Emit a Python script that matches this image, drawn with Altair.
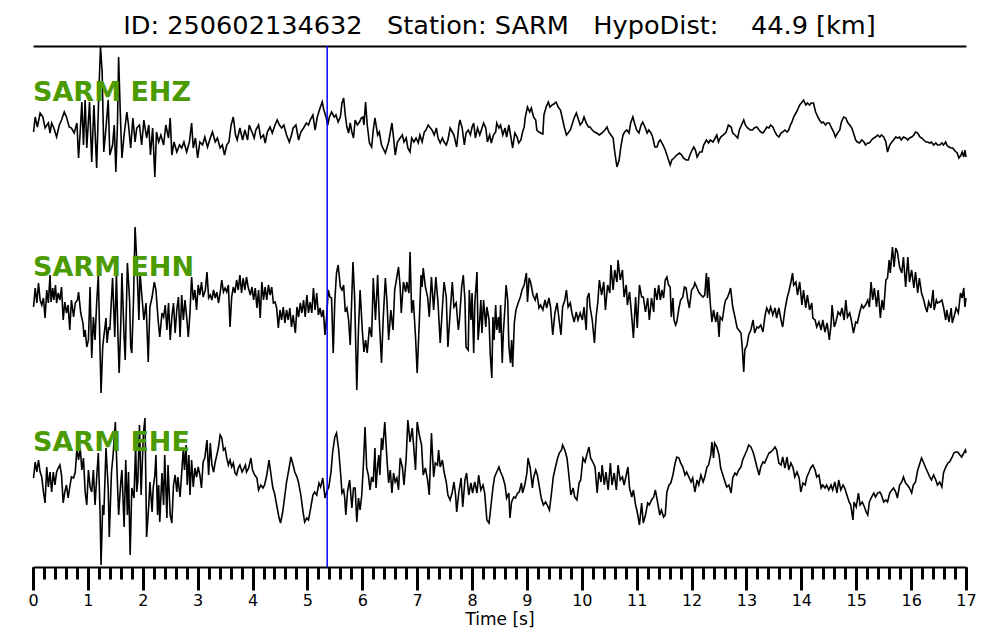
import altair as alt
import pandas as pd

TITLE = "ID: 250602134632\u00a0\u00a0\u00a0Station: SARM\u00a0\u00a0\u00a0HypoDist:\u00a0\u00a0\u00a0\u00a044.9 [km]"
channels = ["SARM EHZ", "SARM EHN", "SARM EHE"]
pick_time = [5.36]
major_ticks = list(range(0, 18))
minor_ticks = [round(i * 0.2, 1) for i in range(0, 86)]

# (time [s], amplitude)
ehz = [(0.01,-7),(0.04,8),(0.08,-2),(0.13,12),(0.18,8),(0.22,-3),(0.28,2),(0.31,-8),(0.34,2),(0.38,-3),(0.43,-12),(0.48,0),(0.52,5),(0.57,13),(0.61,8),(0.66,-2),(0.70,-3),(0.75,-8),(0.80,2),(0.83,-33),(0.86,-7),(0.89,23),(0.92,-20),(0.95,25),(0.98,-23),(1.03,23),(1.07,-37),(1.11,20),(1.16,-43),(1.20,33),(1.23,78),(1.26,53),(1.29,-27),(1.33,-3),(1.37,25),(1.40,-30),(1.45,-20),(1.48,0),(1.51,-47),(1.54,3),(1.56,68),(1.59,13),(1.62,-33),(1.66,-10),(1.71,13),(1.74,0),(1.78,-23),(1.82,7),(1.86,-17),(1.89,-3),(1.94,0),(1.98,-20),(2.02,5),(2.07,-13),(2.11,0),(2.14,-30),(2.18,-3),(2.22,-52),(2.25,-7),(2.29,-17),(2.33,-10),(2.38,-20),(2.42,0),(2.47,-13),(2.50,7),(2.53,-30),(2.57,-17),(2.62,-27),(2.67,-20),(2.71,-23),(2.75,-17),(2.80,-27),(2.85,-17),(2.89,2),(2.92,-23),(2.96,-13),(3.00,-33),(3.04,-17),(3.09,-20),(3.13,-12),(3.18,-22),(3.23,-13),(3.27,-7),(3.32,-17),(3.36,-13),(3.41,-23),(3.45,-20),(3.49,-30),(3.53,-20),(3.57,-17),(3.61,0),(3.65,8),(3.69,-10),(3.72,-15),(3.77,-3),(3.82,-15),(3.86,-5),(3.91,-15),(3.94,0),(3.99,-7),(4.03,-13),(4.06,-5),(4.11,0),(4.15,-13),(4.20,-10),(4.23,-18),(4.27,-7),(4.32,-2),(4.36,-8),(4.41,0),(4.45,5),(4.49,0),(4.53,-3),(4.57,0),(4.62,-10),(4.67,-17),(4.71,-10),(4.74,-3),(4.79,0),(4.84,-15),(4.88,-7),(4.93,-3),(4.98,2),(5.02,0),(5.05,5),(5.10,10),(5.14,-5),(5.18,8),(5.23,17),(5.27,23),(5.30,15),(5.34,8),(5.37,0),(5.40,8),(5.44,13),(5.49,8),(5.52,10),(5.56,3),(5.60,8),(5.63,22),(5.66,27),(5.69,10),(5.72,-2),(5.75,-8),(5.78,2),
(5.81,-7),(5.84,-13),(5.87,5),(5.91,0),(5.95,3),(5.98,7),(6.01,8),(6.03,0),(6.06,23),(6.09,0),(6.13,-18),(6.17,-22),(6.20,-5),(6.23,7),(6.28,-10),(6.31,-7),(6.35,-20),(6.42,-28),(6.48,-17),(6.54,2),(6.57,-13),(6.60,-30),(6.64,-17),(6.69,-13),(6.73,-10),(6.76,-17),(6.80,-13),(6.83,-23),(6.87,-27),(6.90,-13),(6.94,-17),(6.98,-13),(7.02,-18),(7.05,-10),(7.09,-17),(7.13,-7),(7.16,-5),(7.20,0),(7.24,-3),(7.27,-5),(7.31,-10),(7.35,-3),(7.38,-13),(7.42,-18),(7.46,-13),(7.49,-17),(7.53,-20),(7.56,-15),(7.60,-3),(7.64,-7),(7.67,-10),(7.72,-22),(7.76,0),(7.78,5),(7.82,-3),(7.86,-20),(7.89,-8),(7.93,-5),(7.97,-10),(8.00,-2),(8.03,2),(8.06,-13),(8.10,-3),(8.14,-10),(8.17,-5),(8.21,2),(8.25,-3),(8.28,-17),(8.32,-10),(8.35,-18),(8.39,-10),(8.43,-7),(8.45,2),(8.49,-3),(8.52,0),(8.56,-10),(8.60,-3),(8.63,-12),(8.67,0),(8.71,-13),(8.74,-23),(8.78,-8),(8.82,-12),(8.85,-18),(8.89,-15),(8.92,-7),(8.95,-2),(8.97,8),(9.01,18),(9.05,13),(9.08,17),(9.12,8),(9.16,5),(9.18,-5),(9.22,-7),(9.25,-8),(9.29,-9),(9.31,10),(9.35,18),(9.39,23),(9.42,18),(9.46,20),(9.49,21),(9.53,23),(9.57,18),(9.61,15),(9.64,8),(9.68,-2),(9.72,-10),(9.75,-8),(9.79,-5),(9.82,0),(9.86,7),(9.90,12),(9.93,7),(9.97,0),(10.01,3),(10.04,8),(10.08,2),(10.12,-2),(10.15,-2),(10.19,-5),(10.23,-7),(10.27,-8),(10.32,-10),(10.37,-8),(10.42,-5),(10.46,-2),(10.49,-7),(10.53,-10),(10.57,-13),(10.60,-27),(10.64,-42),(10.68,-35),(10.71,-22),(10.75,-10),(10.78,-7),(10.82,-5),(10.86,-8),(10.89,2),(10.93,8),(10.97,0),(11.00,-5),(11.04,-8),(11.08,0),(11.11,3),(11.15,-2),(11.19,-8),(11.22,-5),(11.26,-8),(11.29,-12),(11.33,-22),(11.37,-22),(11.40,-17),(11.43,-15),
(11.48,-20),(11.52,-25),(11.55,-30),(11.58,-35),(11.61,-40),(11.64,-35),(11.68,-33),(11.73,-30),(11.78,-28),(11.82,-30),(11.85,-33),(11.90,-35),(11.94,-35),(11.97,-30),(12.01,-25),(12.04,-22),(12.07,-25),(12.10,-32),(12.15,-27),(12.19,-27),(12.22,-20),(12.27,-15),(12.31,-18),(12.34,-15),(12.39,-17),(12.43,-13),(12.46,-10),(12.49,-17),(12.53,-12),(12.58,-10),(12.63,-7),(12.67,0),(12.72,-2),(12.75,-8),(12.79,-10),(12.84,-13),(12.87,-5),(12.91,0),(12.95,5),(12.98,0),(13.02,-3),(13.07,-5),(13.11,-5),(13.14,-3),(13.19,-2),(13.23,-5),(13.26,-7),(13.30,-8),(13.34,-5),(13.37,-2),(13.41,-3),(13.44,0),(13.48,-2),(13.52,-7),(13.55,-10),(13.59,-12),(13.63,-8),(13.66,-7),(13.70,-5),(13.74,-7),(13.77,-5),(13.80,0),(13.83,3),(13.86,8),(13.90,12),(13.93,15),(13.97,20),(14.00,22),(14.04,25),(14.08,20),(14.11,22),(14.15,20),(14.18,22),(14.22,22),(14.26,13),(14.30,8),(14.33,5),(14.37,2),(14.40,3),(14.44,0),(14.47,2),(14.51,2),(14.55,-3),(14.59,-7),(14.62,-12),(14.66,-8),(14.70,-5),(14.73,3),(14.77,8),(14.81,7),(14.84,3),(14.88,0),(14.92,-3),(14.95,-8),(14.99,-15),(15.02,-17),(15.06,-18),(15.10,-15),(15.14,-17),(15.17,-20),(15.21,-18),(15.24,-18),(15.28,-15),(15.32,-13),(15.35,-12),(15.39,-10),(15.43,-12),(15.46,-10),(15.50,-12),(15.54,-17),(15.57,-27),(15.61,-20),(15.65,-17),(15.68,-15),(15.72,-12),(15.76,-13),(15.79,-12),(15.82,-15),(15.86,-12),(15.90,-13),(15.94,-15),(15.97,-13),(16.01,-12),(16.05,-10),(16.08,-7),(16.12,-8),(16.16,-12),(16.19,-13),(16.23,-15),(16.27,-17),(16.30,-17),(16.34,-18),(16.37,-17),(16.41,-20),(16.45,-18),(16.48,-20),(16.52,-20),(16.56,-18),(16.59,-20),(16.63,-17),(16.65,-20),(16.69,-22),(16.73,-23),(16.76,-23),(16.80,-26),(16.84,-28),(16.87,-33),(16.91,-30),(16.93,-27),(16.96,-32),(16.98,-25),(17.00,-32)]

ehn = [(0.01,-7),(0.04,12),(0.07,-3),(0.10,17),(0.13,0),(0.16,-5),(0.19,2),(0.22,-18),(0.25,10),(0.28,-3),(0.31,25),(0.33,-2),(0.36,12),(0.38,0),(0.41,15),(0.43,-3),(0.46,7),(0.49,0),(0.52,13),(0.55,-20),(0.58,-2),(0.61,-13),(0.64,-5),(0.67,-30),(0.70,0),(0.74,-17),(0.77,-3),(0.81,0),(0.83,8),(0.87,-13),(0.91,-23),(0.93,-37),(0.95,-30),(0.98,-47),(1.01,-40),(1.04,13),(1.07,-58),(1.10,-17),(1.13,-40),(1.16,-3),(1.19,25),(1.22,-47),(1.24,-93),(1.27,-47),(1.29,-37),(1.33,-18),(1.35,-43),(1.38,-27),(1.40,-30),(1.45,22),(1.49,-37),(1.52,27),(1.55,-40),(1.57,-73),(1.60,-23),(1.62,27),(1.66,-37),(1.68,-60),(1.72,37),(1.76,0),(1.78,-47),(1.80,-53),(1.83,-3),(1.86,73),(1.89,40),(1.93,-20),(1.95,27),(1.99,0),(2.02,-20),(2.06,-3),(2.10,-62),(2.13,-7),(2.17,3),(2.21,18),(2.24,10),(2.28,-20),(2.31,-37),(2.35,-13),(2.38,-17),(2.41,-5),(2.44,-30),(2.47,-3),(2.50,-40),(2.53,-17),(2.56,-3),(2.59,-33),(2.62,-10),(2.65,3),(2.68,-37),(2.71,5),(2.74,-20),(2.77,0),(2.80,-17),(2.83,-37),(2.86,-13),(2.89,23),(2.92,0),(2.95,10),(2.98,-10),(3.01,15),(3.04,5),(3.07,18),(3.10,3),(3.14,10),(3.17,28),(3.20,2),(3.23,5),(3.26,0),(3.29,10),(3.32,2),(3.35,8),(3.38,-3),(3.41,7),(3.44,20),(3.47,8),(3.50,12),(3.53,8),(3.56,15),(3.59,-27),(3.62,3),(3.65,13),(3.68,7),(3.71,20),(3.74,10),(3.77,25),(3.80,7),(3.83,22),(3.86,10),(3.89,23),(3.92,13),(3.96,5),(3.99,13),(4.02,0),(4.05,12),(4.08,-8),(4.11,10),(4.14,-18),(4.17,18),(4.20,0),(4.23,13),(4.26,0),(4.29,15),(4.32,5),(4.35,13),(4.38,-3),(4.41,-2),(4.44,-8),(4.47,-28),(4.50,-10),(4.53,-20),(4.56,-7),(4.59,-23),(4.62,-10),(4.65,-20),(4.68,-8),(4.71,-27),(4.74,-15),(4.78,-33),(4.81,-7),(4.84,-17),(4.87,-3),(4.90,-13),(4.93,0),(4.96,-17),(4.99,5),(5.02,-13),(5.05,-2),(5.08,-13),(5.11,12),(5.14,-10),(5.17,7),(5.20,-15),(5.23,-8),(5.26,-17),(5.29,-10),(5.32,-35),(5.35,-17),(5.38,10),(5.41,3),(5.44,2),(5.47,-53),(5.50,0),(5.53,27),(5.56,35),(5.60,13),(5.63,10),(5.66,15),(5.69,-12),(5.72,-8),(5.75,-20),(5.78,-45),
(5.83,38),(5.86,3),(5.90,-90),(5.93,-30),(5.96,10),(6.00,-30),(6.03,-52),(6.06,-40),(6.09,-53),(6.13,-27),(6.17,-37),(6.20,22),(6.24,-20),(6.28,25),(6.31,-20),(6.35,-63),(6.38,-20),(6.42,22),(6.45,-2),(6.48,-40),(6.52,-10),(6.56,-30),(6.59,10),(6.63,23),(6.66,33),(6.69,13),(6.71,-13),(6.75,18),(6.79,8),(6.81,18),(6.85,7),(6.87,48),(6.90,-13),(6.93,0),(6.97,-37),(7.00,-73),(7.04,-20),(7.07,25),(7.09,13),(7.11,32),(7.15,13),(7.19,3),(7.22,-17),(7.26,23),(7.30,-10),(7.34,23),(7.38,-3),(7.42,-43),(7.46,-7),(7.49,18),(7.53,3),(7.56,-47),(7.60,-13),(7.64,18),(7.67,-7),(7.71,-3),(7.75,-30),(7.77,-20),(7.81,13),(7.84,25),(7.87,0),(7.89,-47),(7.93,-50),(7.95,10),(7.98,-20),(8.00,7),(8.03,-53),(8.05,-3),(8.09,28),(8.11,-40),(8.14,-20),(8.16,0),(8.18,-33),(8.21,0),(8.25,-27),(8.27,-7),(8.31,-20),(8.33,-53),(8.36,-78),(8.38,-17),(8.40,-40),(8.43,-5),(8.45,-30),(8.48,-17),(8.50,-33),(8.52,-5),(8.55,-63),(8.57,-33),(8.60,-7),(8.62,15),(8.65,0),(8.67,-45),(8.70,-63),(8.72,-40),(8.74,-67),(8.77,-23),(8.80,-10),(8.84,-3),(8.88,3),(8.91,10),(8.95,15),(8.99,27),(9.01,-2),(9.04,22),(9.07,17),(9.11,5),(9.15,0),(9.18,7),(9.22,-8),(9.25,-5),(9.29,-10),(9.33,0),(9.36,-8),(9.40,2),(9.43,-7),(9.47,-35),(9.51,-13),(9.55,-3),(9.58,-17),(9.62,-35),(9.65,-7),(9.69,0),(9.72,10),(9.75,-7),(9.79,-3),(9.82,-13),(9.86,-22),(9.90,-12),(9.93,-20),(9.97,-13),(10.01,-20),(10.04,-7),(10.08,-30),(10.10,2),(10.13,7),(10.15,-7),(10.19,-20),(10.23,-43),(10.26,-17),(10.29,-3),(10.32,20),(10.36,5),(10.40,18),(10.43,-10),(10.47,15),(10.51,7),(10.53,35),(10.57,10),(10.60,30),(10.64,18),(10.66,40),(10.70,20),(10.74,30),(10.77,3),(10.81,15),(10.83,-5),(10.87,8),(10.91,-17),(10.94,-38),(10.98,3),(11.01,-28),(11.05,15),(11.09,3),(11.12,3),(11.16,-12),(11.20,2),(11.23,-20),(11.27,2),(11.31,-12),(11.33,12),(11.37,0),(11.40,15),(11.43,0),
(11.46,10),(11.49,2),(11.52,20),(11.55,23),(11.58,15),(11.61,13),(11.63,-17),(11.66,2),(11.68,-20),(11.71,-25),(11.73,-22),(11.77,-8),(11.80,0),(11.84,3),(11.87,13),(11.90,12),(11.93,0),(11.96,-8),(12.00,10),(12.04,13),(12.06,17),(12.10,12),(12.13,8),(12.17,5),(12.21,3),(12.24,5),(12.27,27),(12.29,2),(12.31,23),(12.34,-3),(12.37,-22),(12.40,-10),(12.44,-22),(12.47,-12),(12.50,-37),(12.52,-17),(12.56,-20),(12.60,-5),(12.62,0),(12.65,2),(12.69,8),(12.71,12),(12.75,-7),(12.79,-17),(12.83,-28),(12.86,-30),(12.90,-33),(12.92,-45),(12.95,-72),(12.97,-50),(13.01,-45),(13.04,-35),(13.08,-30),(13.12,-20),(13.15,-33),(13.19,-27),(13.22,-28),(13.26,-25),(13.30,-32),(13.34,-15),(13.37,-8),(13.41,-13),(13.44,-7),(13.48,-15),(13.52,-8),(13.55,-18),(13.59,-8),(13.63,-20),(13.66,-27),(13.70,-10),(13.74,2),(13.77,8),(13.81,18),(13.84,27),(13.86,15),(13.90,18),(13.93,5),(13.97,18),(14.01,-5),(14.04,10),(14.08,-8),(14.11,5),(14.15,-10),(14.19,-3),(14.21,-18),(14.25,-20),(14.28,-27),(14.32,-22),(14.36,-30),(14.39,-20),(14.43,-32),(14.47,-23),(14.51,-40),(14.54,-25),(14.56,-5),(14.60,-27),(14.63,-22),(14.67,-12),(14.71,-15),(14.74,-8),(14.78,-20),(14.81,0),(14.84,-17),(14.88,-13),(14.91,-20),(14.95,-33),(14.99,-22),(15.02,-23),(15.06,-13),(15.10,-5),(15.13,-8),(15.17,-5),(15.21,0),(15.24,-7),(15.27,18),(15.30,0),(15.33,12),(15.37,-7),(15.40,10),(15.44,-18),(15.47,0),(15.50,-10),(15.54,20),(15.57,22),(15.60,40),(15.62,27),(15.66,53),(15.69,33),(15.72,52),(15.75,48),(15.79,33),(15.83,27),(15.86,43),(15.90,13),(15.94,43),(15.97,18),(16.01,30),(16.05,12),(16.08,28),(16.12,7),(16.15,22),(16.19,7),(16.23,0),(16.26,-7),(16.29,-12),(16.32,-2),(16.36,-8),(16.40,10),(16.42,-10),(16.46,0),(16.48,-3),(16.52,-2),(16.56,0),(16.59,-7),(16.63,-20),(16.65,-10),(16.69,-22),(16.73,-8),(16.75,-23),(16.79,-15),(16.82,-8),(16.86,-13),(16.90,7),(16.93,2),(16.96,12),(16.98,-7),(17.00,2)]

ehe = [(0.01,-3),(0.04,13),(0.07,3),(0.10,15),(0.13,3),(0.16,-2),(0.19,-17),(0.22,-28),(0.25,8),(0.28,-12),(0.31,3),(0.34,-17),(0.37,3),(0.40,-10),(0.43,3),(0.46,7),(0.49,10),(0.52,0),(0.55,-28),(0.58,-17),(0.61,-10),(0.64,-23),(0.67,-12),(0.70,-2),(0.74,-3),(0.77,3),(0.80,27),(0.83,15),(0.86,27),(0.89,5),(0.92,17),(0.95,-17),(0.98,-30),(1.01,5),(1.04,-12),(1.07,-17),(1.10,5),(1.13,-30),(1.16,-3),(1.19,22),(1.22,-33),(1.24,-90),(1.27,-30),(1.29,-40),(1.33,27),(1.37,-13),(1.39,-62),(1.43,3),(1.46,20),(1.50,53),(1.54,-10),(1.56,-40),(1.60,-7),(1.62,5),(1.66,-52),(1.69,15),(1.72,-40),(1.74,3),(1.77,-80),(1.80,-13),(1.84,-23),(1.87,30),(1.89,-17),(1.91,-7),(1.94,50),(1.97,-20),(2.01,40),(2.04,57),(2.07,-62),(2.11,-30),(2.13,-7),(2.17,-37),(2.19,-13),(2.22,0),(2.24,20),(2.27,-40),(2.29,-10),(2.31,-47),(2.35,2),(2.38,-30),(2.40,20),(2.44,-43),(2.46,10),(2.50,-40),(2.53,-48),(2.56,-10),(2.59,0),(2.62,-17),(2.64,-2),(2.68,-22),(2.71,3),(2.74,27),(2.76,5),(2.79,30),(2.81,-10),(2.84,20),(2.86,-20),(2.89,15),(2.92,-12),(2.95,7),(2.98,-2),(3.01,8),(3.04,0),(3.07,-13),(3.10,13),(3.13,17),(3.17,35),(3.20,0),(3.23,32),(3.26,10),(3.29,3),(3.32,13),(3.35,20),(3.38,28),(3.41,40),(3.44,37),(3.47,25),(3.50,27),(3.53,17),(3.56,10),(3.59,15),(3.62,8),(3.65,12),(3.68,2),(3.71,0),(3.74,7),(3.77,10),(3.81,3),(3.83,5),(3.87,10),(3.89,3),(3.93,7),(3.97,17),(4.00,5),(4.04,0),(4.08,-3),(4.11,-15),(4.15,-10),(4.19,-13),(4.22,-10),(4.26,0),(4.30,15),(4.33,3),(4.37,-13),(4.40,-18),(4.44,-30),(4.48,-42),(4.51,-48),(4.55,-37),(4.59,-20),(4.62,-7),(4.66,5),(4.70,18),(4.73,12),(4.77,3),(4.81,-2),(4.84,-8),(4.88,-20),(4.92,-37),(4.95,-47),(4.99,-43),(5.02,-45),(5.06,-33),(5.10,-20),(5.13,-17),(5.17,-20),(5.21,-8),(5.24,-12),(5.28,-3),(5.32,-23),(5.35,-17),(5.39,-12),(5.43,3),(5.46,23),(5.50,38),(5.53,42),(5.57,25),(5.61,-2),(5.63,-18),(5.66,-15),(5.68,-23),(5.70,-40),(5.73,-17),(5.77,-5),
(5.81,-33),(5.84,-13),(5.87,-13),(5.90,-47),(5.93,-23),(5.96,-35),(5.99,-20),(6.02,10),(6.05,48),(6.08,7),(6.11,0),(6.14,-15),(6.17,-2),(6.20,-7),(6.23,27),(6.25,-13),(6.28,10),(6.30,20),(6.32,0),(6.35,37),(6.37,25),(6.41,53),(6.45,15),(6.48,-8),(6.51,5),(6.54,-18),(6.57,2),(6.60,-7),(6.63,-3),(6.66,-15),(6.69,17),(6.73,8),(6.76,-10),(6.80,17),(6.83,55),(6.87,33),(6.91,47),(6.93,33),(6.97,5),(7.00,53),(7.04,40),(7.08,30),(7.11,0),(7.15,7),(7.19,-5),(7.22,-20),(7.26,42),(7.30,-2),(7.33,12),(7.37,10),(7.39,25),(7.42,8),(7.46,15),(7.49,3),(7.53,-7),(7.56,-20),(7.60,-25),(7.64,-17),(7.67,-7),(7.70,-20),(7.72,-37),(7.76,-17),(7.80,-3),(7.83,-32),(7.87,-5),(7.90,2),(7.94,-20),(7.98,-8),(8.01,-18),(8.05,-7),(8.09,-18),(8.12,0),(8.16,-15),(8.20,-10),(8.23,-18),(8.27,-45),(8.31,-48),(8.34,-33),(8.38,-13),(8.41,-2),(8.45,3),(8.49,8),(8.52,3),(8.56,-2),(8.60,-10),(8.63,-23),(8.67,-18),(8.69,-43),(8.72,-27),(8.76,-22),(8.79,-23),(8.83,-18),(8.86,-17),(8.90,-8),(8.92,-18),(8.96,-10),(9.00,2),(9.02,17),(9.06,7),(9.10,-13),(9.12,-3),(9.16,5),(9.19,0),(9.23,-13),(9.26,-23),(9.30,-30),(9.34,-27),(9.37,-30),(9.41,-35),(9.45,-17),(9.48,-2),(9.52,8),(9.56,17),(9.59,22),(9.63,25),(9.65,30),(9.69,25),(9.73,17),(9.76,2),(9.80,-20),(9.84,-13),(9.87,-22),(9.91,-25),(9.95,-8),(9.98,-5),(10.02,17),(10.06,13),(10.09,20),(10.13,28),(10.16,17),(10.20,13),(10.24,8),(10.28,-18),(10.31,3),(10.35,-7),(10.37,10),(10.41,-10),(10.44,3),(10.48,-15),(10.52,12),(10.55,-10),(10.59,2),(10.63,-15),(10.66,10),(10.70,-5),(10.74,-2),(10.77,-10),(10.81,0),(10.84,8),(10.87,-13),(10.91,-22),(10.94,-15),(10.98,-30),(11.01,-37),(11.05,-50),(11.09,-28),(11.12,-48),(11.16,-40),(11.20,-28),(11.23,-30),(11.27,-25),(11.31,-22),(11.34,-15),(11.38,-27),(11.42,-40),
(11.45,-35),(11.49,-42),(11.52,-40),(11.55,-17),(11.59,-10),(11.62,-8),(11.66,0),(11.70,12),(11.73,18),(11.77,17),(11.80,12),(11.84,8),(11.88,0),(11.91,3),(11.95,-2),(11.99,-7),(12.02,-3),(12.06,-17),(12.10,-5),(12.13,-10),(12.17,0),(12.21,-7),(12.24,-2),(12.28,8),(12.31,10),(12.35,20),(12.37,33),(12.40,17),(12.42,32),(12.46,28),(12.50,20),(12.53,7),(12.57,0),(12.61,-7),(12.64,-12),(12.68,-10),(12.72,-18),(12.75,-3),(12.79,2),(12.82,0),(12.86,5),(12.90,8),(12.93,15),(12.97,20),(13.01,25),(13.04,30),(13.08,28),(13.12,23),(13.15,17),(13.19,8),(13.23,0),(13.26,8),(13.30,13),(13.33,12),(13.37,17),(13.41,22),(13.44,23),(13.48,25),(13.52,28),(13.55,25),(13.59,12),(13.63,10),(13.66,18),(13.70,7),(13.74,18),(13.77,5),(13.81,12),(13.85,7),(13.88,-2),(13.92,3),(13.96,-3),(13.99,-17),(14.03,-8),(14.07,-10),(14.10,-2),(14.14,3),(14.17,7),(14.21,10),(14.25,5),(14.28,-2),(14.32,0),(14.36,-13),(14.39,-10),(14.43,-13),(14.46,-10),(14.50,-15),(14.54,-10),(14.57,-15),(14.61,-7),(14.65,-18),(14.68,-5),(14.72,-15),(14.76,-10),(14.79,-13),(14.83,-20),(14.87,-27),(14.90,-30),(14.94,-45),(14.96,-27),(15.00,-32),(15.04,-18),(15.07,-30),(15.11,-27),(15.15,-32),(15.18,-37),(15.21,-40),(15.24,-27),(15.28,-22),(15.32,-18),(15.35,-22),(15.39,-18),(15.43,-17),(15.46,-20),(15.50,-27),(15.54,-25),(15.57,-27),(15.61,-18),(15.65,-15),(15.68,-13),(15.72,-17),(15.75,-23),(15.79,-10),(15.83,-7),(15.86,-2),(15.90,-8),(15.93,-10),(15.97,-13),(16.01,-18),(16.04,-10),(16.08,-7),(16.12,5),(16.15,10),(16.19,17),(16.23,12),(16.26,8),(16.30,3),(16.34,-2),(16.37,-5),(16.41,0),(16.45,-5),(16.48,-10),(16.52,-7),(16.56,-12),(16.59,2),(16.63,8),(16.67,12),(16.70,13),(16.74,17),(16.78,22),(16.81,23),(16.85,23),(16.89,20),(16.92,18),(16.96,22),(16.99,25),(17.00,22)]

# vertical placement of each trace inside the panel (layout, not data)
offsets = {"SARM EHZ": 442, "SARM EHN": 267, "SARM EHE": 92}
label_lift = 24

rows = []
for name, trace in zip(channels, [ehz, ehn, ehe]):
    for t, a in trace:
        rows.append({"t": t, "y": a + offsets[name], "channel": name})
traces = pd.DataFrame(rows)
labels = pd.DataFrame({"channel": channels, "t": [0.0] * 3,
                       "y": [offsets[c] + label_lift for c in channels]})
picks = pd.DataFrame({"t": pick_time})

FONT = "DejaVu Sans"
x_scale = alt.Scale(domain=[0, 17], nice=False, zero=False)
y_scale = alt.Scale(domain=[0, 521], nice=False, zero=False)

major_axis = alt.Axis(orient="bottom", values=major_ticks, tickSize=23, tickWidth=3,
                      tickColor="black", domainColor="black", domainWidth=2, grid=False,
                      format="d", labelFontSize=16, labelFont=FONT, labelColor="black",
                      labelPadding=2, labelAngle=0, labelFlush=False, labelOverlap=False,
                      title="Time [s]", titleFont=FONT, titleFontSize=17,
                      titleFontWeight="normal", titleColor="black", titlePadding=3)
minor_axis = alt.Axis(orient="bottom", values=minor_ticks, tickSize=12, tickWidth=3,
                      tickColor="black", domain=False, labels=False, grid=False, title=None)
top_axis = alt.Axis(orient="top", ticks=False, labels=False, domain=True,
                    domainColor="black", domainWidth=2, grid=False, title=None)

lines = alt.Chart(traces).mark_line(color="black", strokeWidth=1.6).encode(
    x=alt.X("t:Q", scale=x_scale, axis=major_axis),
    y=alt.Y("y:Q", scale=y_scale, axis=None),
    detail="channel:N",
    order="t:Q",
)
pick = alt.Chart(picks).mark_rule(color="#0000ff", strokeWidth=1.5).encode(
    x=alt.X("t:Q", scale=x_scale, axis=minor_axis),
)
names = alt.Chart(labels).mark_text(align="left", baseline="alphabetic", font=FONT,
                                    fontWeight="bold", fontSize=27, color="#4a9a00").encode(
    x=alt.X("t:Q", scale=x_scale, axis=top_axis),
    y=alt.Y("y:Q", scale=y_scale, axis=None),
    text="channel:N",
)

chart = alt.layer(lines, pick, names).resolve_axis(x="independent").properties(
    width=933, height=521,
    autosize="none",
    background="white",
    padding={"left": 25, "top": 38, "right": 26, "bottom": 65},
    title=alt.TitleParams(TITLE, font=FONT, fontSize=25.6, fontWeight="normal",
                          color="black", anchor="middle", offset=4),
).configure_view(stroke=None)

chart.save("out.html", embed_options={"renderer": "svg", "actions": False})
